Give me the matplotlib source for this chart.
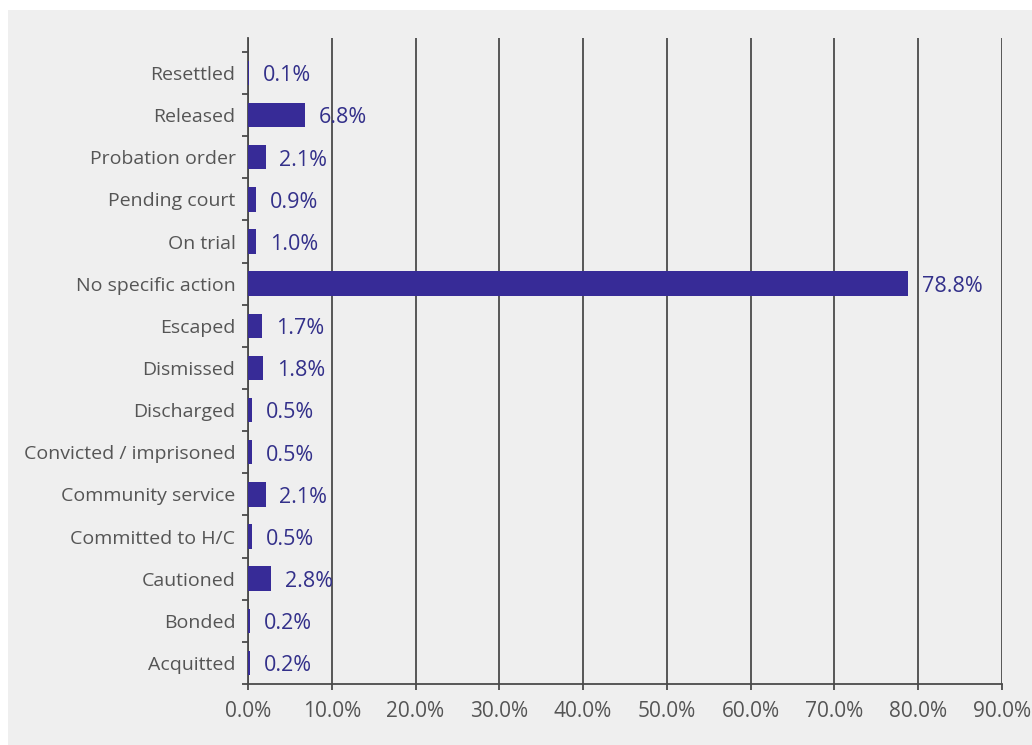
import matplotlib
matplotlib.use("Agg")
import matplotlib.pyplot as plt
from matplotlib.patches import Rectangle
from matplotlib.ticker import FixedLocator, PercentFormatter

categories = ["Acquitted", "Bonded", "Cautioned", "Committed to H/C", "Community service",
              "Convicted / imprisoned", "Discharged", "Dismissed", "Escaped",
              "No specific action", "On trial", "Pending court", "Probation order",
              "Released", "Resettled"]
values = [0.2, 0.2, 2.8, 0.5, 2.1, 0.5, 0.5, 1.8, 1.7, 78.8, 1.0, 0.9, 2.1, 6.8, 0.1]
value_labels = ["0.2%", "0.2%", "2.8%", "0.5%", "2.1%", "0.5%", "0.5%", "1.8%", "1.7%",
                "78.8%", "1.0%", "0.9%", "2.1%", "6.8%", "0.1%"]
x_ticks = [0, 10, 20, 30, 40, 50, 60, 70, 80, 90]

plt.rcParams['font.family'] = ['Open Sans', 'DejaVu Sans']

BG = "#efefef"
BAR = "#372b97"
LABEL = "#33308a"
AXC = "#4a4a4a"

fig = plt.figure(figsize=(10.32, 7.45), dpi=100, facecolor="white")
fig.patches.append(Rectangle((8 / 1032, 0), 1, 1 - 10 / 745, transform=fig.transFigure,
                             facecolor=BG, edgecolor="none", zorder=-10))
ax = fig.add_axes([248 / 1032, 1 - 684 / 745, (1002 - 248) / 1032, (684 - 38) / 745])
ax.set_facecolor(BG)
ax.patch.set_alpha(0)

ypos = list(range(len(categories)))
bars = ax.barh(ypos, values, height=0.58, color=BAR, zorder=3)
texts = ax.bar_label(bars, labels=value_labels, padding=10, color=LABEL, fontsize=15.5, zorder=4)
for t in texts:
    t.set_va("center")
    t.set_y(-2)

ax.set_xlim(0, 90)
ax.set_ylim(-0.5, 14.83)
ax.set_xticks(x_ticks)
ax.xaxis.set_major_formatter(PercentFormatter(decimals=1))
ax.set_yticks(ypos)
ax.set_yticklabels(categories)
ax.yaxis.set_minor_locator(FixedLocator([i - 0.5 for i in range(len(categories) + 1)]))

ax.grid(axis="x", color=AXC, linewidth=1.3, zorder=1)
for s in ["top", "right"]:
    ax.spines[s].set_visible(False)
for s in ["left", "bottom"]:
    ax.spines[s].set_color(AXC)
    ax.spines[s].set_linewidth(1.3)

ax.tick_params(axis="y", which="major", length=0, pad=9, labelsize=14, labelcolor="#555555")
ax.tick_params(axis="y", which="minor", length=4, width=1.3, color=AXC)
ax.tick_params(axis="x", which="major", length=4, width=1.3, color=AXC, pad=8,
               labelsize=15, labelcolor="#555555")

fig.savefig("out.png", dpi=100, facecolor=fig.get_facecolor())
